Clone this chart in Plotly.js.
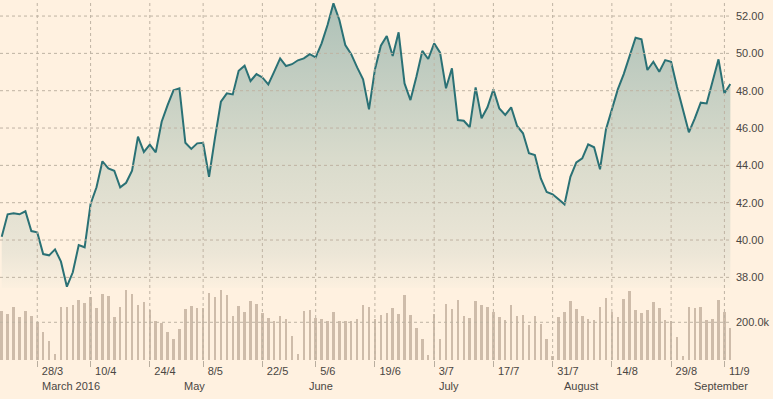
<!DOCTYPE html>
<html>
<head>
<meta charset="utf-8">
<script src="https://cdn.plot.ly/plotly-3.0.1.min.js"></script>
<style>html,body{margin:0;padding:0;background:#fff1e0;}#chart{width:773px;height:399px;}</style>
</head>
<body>
<div id="chart"></div>
<script>
// Trading-day categories (as labelled on the chart)
const dates = ["16/3","17/3","20/3","21/3","22/3","23/3","28/3","29/3","30/3","31/3",
"3/4","4/4","5/4","6/4","7/4","10/4","11/4","12/4","13/4","14/4",
"17/4","18/4","19/4","20/4","21/4","24/4","25/4","26/4","27/4","28/4",
"2/5","3/5","4/5","5/5","8/5","9/5","10/5","11/5","12/5","15/5",
"16/5","17/5","18/5","19/5","22/5","23/5","24/5","25/5","26/5","30/5",
"31/5","1/6","2/6","5/6","6/6","7/6","8/6","9/6","12/6","13/6",
"14/6","15/6","16/6","19/6","20/6","21/6","22/6","23/6","26/6","27/6",
"28/6","29/6","30/6","3/7","4/7","5/7","6/7","7/7","10/7","11/7",
"12/7","13/7","14/7","17/7","18/7","19/7","20/7","21/7","24/7","25/7",
"26/7","27/7","28/7","31/7","1/8","2/8","3/8","4/8","7/8","8/8",
"9/8","10/8","11/8","14/8","15/8","16/8","17/8","18/8","21/8","22/8",
"23/8","24/8","25/8","29/8","30/8","31/8","1/9","4/9","5/9","6/9",
"7/9","8/9","11/9","12/9"];

const price = [40.18,41.38,41.43,41.38,41.54,40.48,40.41,39.25,39.18,39.50,
38.84,37.50,38.27,39.73,39.61,41.93,42.83,44.22,43.84,43.71,
42.82,43.07,43.71,45.54,44.72,45.11,44.70,46.34,47.23,48.02,
48.13,45.21,44.88,45.18,45.21,43.39,45.47,47.41,47.86,47.80,
49.07,49.34,48.52,48.89,48.71,48.34,49.02,49.73,49.32,49.42,
49.63,49.73,49.96,49.79,50.54,51.52,52.68,51.79,50.45,49.96,
49.25,48.61,47.00,49.14,50.41,50.93,49.86,51.13,48.39,47.50,
48.75,50.13,49.70,50.54,50.04,48.13,49.20,46.43,46.39,46.04,
48.18,46.52,47.11,48.07,47.05,46.70,47.11,46.11,45.72,44.65,
44.55,43.30,42.57,42.45,42.18,41.91,43.39,44.16,44.38,45.13,
44.97,43.79,45.93,47.04,48.07,48.89,49.82,50.84,50.75,49.11,
49.55,49.02,49.64,49.55,48.20,46.96,45.77,46.52,47.36,47.32,
48.48,49.68,47.86,48.36];

const volume = [260,244,280,226,258,232,202,147,101,32,
281,281,290,317,302,334,276,350,341,228,
281,371,350,292,308,267,207,196,149,111,
164,271,286,276,276,355,334,371,345,233,
286,255,313,297,249,223,207,233,218,127,
32,260,265,223,218,207,255,207,207,207,
218,292,281,218,239,249,276,244,345,239,
170,111,27,244,111,297,271,318,233,223,
313,292,281,255,228,212,292,233,239,186,
233,191,111,21,228,255,313,271,233,218,
212,281,329,255,228,324,366,265,249,265,
308,276,212,207,122,21,281,276,281,212,
218,318,255,170].map(v => v * 1000);

const tickDates = ["28/3","10/4","24/4","8/5","22/5","5/6","19/6","3/7","17/7","31/7","14/8","29/8","11/9"];
const priceTicks = [38,40,42,44,46,48,50,52];
const volTicks = [200000];
const volTickText = ["200.0k"];
const monthNames = ["March 2016","May","June","July","August","September"];
const monthStarts = ["28/3","2/5","1/6","3/7","1/8","1/9"];

const gridStyle = {color: '#bfb3a3', width: 1, dash: 'dot'};
const shapes = [];
tickDates.forEach(d => shapes.push({type: 'line', layer: 'above', xref: 'x', yref: 'paper',
  x0: d, x1: d, y0: 0, y1: 1, line: gridStyle}));
priceTicks.forEach(v => shapes.push({type: 'line', layer: 'above', xref: 'paper', yref: 'y',
  x0: 0, x1: 1, y0: v, y1: v, line: gridStyle}));
volTicks.forEach(v => shapes.push({type: 'line', layer: 'above', xref: 'paper', yref: 'y2',
  x0: 0, x1: 1, y0: v, y1: v, line: gridStyle}));

const traces = [
  {
    x: dates, y: price, type: 'scatter', mode: 'lines',
    xaxis: 'x', yaxis: 'y',
    line: {color: '#2a7175', width: 2},
    fill: 'tozeroy',
    fillgradient: {type: 'vertical', start: 37.43, stop: 52.86,
      colorscale: [[0, '#fcf0df'], [0.12, '#ece6d7'], [0.45, '#d9dbcc'], [1, '#acc0b7']]},
    hoverinfo: 'skip'
  },
  {
    x: dates, y: volume, type: 'bar',
    xaxis: 'x', yaxis: 'y2',
    width: 0.42,
    marker: {color: '#cebcaa', line: {width: 0}},
    hoverinfo: 'skip'
  }
];

const layout = {
  width: 773, height: 399,
  margin: {l: 0, r: 42, t: 0, b: 39, pad: 0},
  paper_bgcolor: '#fff1e0', plot_bgcolor: '#fff1e0',
  showlegend: false,
  font: {family: 'Liberation Sans, Arial, sans-serif', size: 11, color: '#4a4642'},
  xaxis: {
    type: 'category', range: [-0.29, 123.11], anchor: 'y2',
    tickmode: 'array', tickvals: tickDates, ticktext: tickDates,
    ticks: 'outside', ticklen: 6, tickcolor: '#b9ae9f', tickwidth: 1,
    ticklabelposition: 'outside right', ticklabelshift: 4, ticklabelstandoff: 1,
    showgrid: false, showline: false, zeroline: false, fixedrange: true,
    tickfont: {size: 11}
  },
  yaxis: {
    domain: [0.2, 1], range: [37.43, 52.86], side: 'right', anchor: 'x',
    tickmode: 'array', tickvals: priceTicks, tickformat: '.2f',
    showgrid: false, zeroline: false, showline: false, ticks: '', ticklabelstandoff: 4, fixedrange: true
  },
  yaxis2: {
    domain: [0, 0.1964], range: [0, 375000], side: 'right', anchor: 'x',
    tickmode: 'array', tickvals: volTicks, ticktext: volTickText,
    showgrid: false, zeroline: false, showline: false, ticks: '', ticklabelstandoff: 4, fixedrange: true
  },
  bargap: 0,
  shapes: shapes,
  annotations: monthNames.map((m, i) => ({
    text: m, x: monthStarts[i], xref: 'x', y: -0.0714, yref: 'paper',
    xanchor: 'left', yanchor: 'middle', showarrow: false, xshift: 3,
    font: {size: 11, color: '#4a4642'}
  }))
};

Plotly.newPlot('chart', traces, layout, {displayModeBar: false, staticPlot: true});
</script>
</body>
</html>
